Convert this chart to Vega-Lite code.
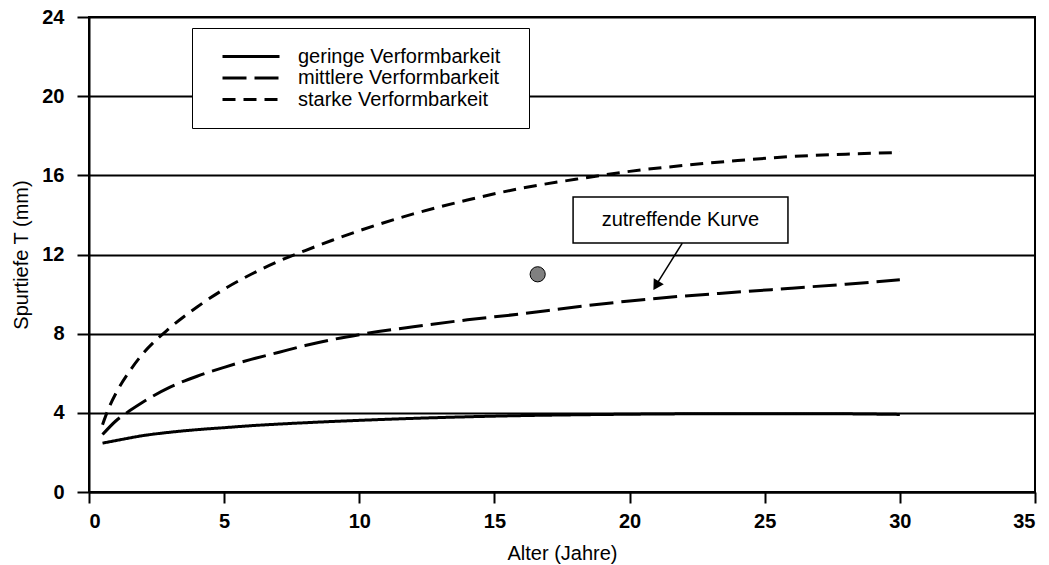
{
  "$schema": "https://vega.github.io/schema/vega-lite/v6.json",
  "width": 946,
  "height": 475,
  "autosize": {"type": "none"},
  "padding": {"left": 89, "top": 17, "right": 14, "bottom": 73},
  "background": "white",
  "config": {
    "view": {"stroke": "black", "strokeWidth": 2},
    "font": "Liberation Sans",
    "axis": {
      "domainColor": "black", "domainWidth": 2,
      "tickColor": "black", "tickWidth": 2,
      "labelColor": "black", "labelFont": "Liberation Sans", "labelFontSize": 20, "labelFontWeight": "bold",
      "titleColor": "black", "titleFont": "Liberation Sans", "titleFontSize": 20, "titleFontWeight": "normal"
    }
  },
  "layer": [
    {
      "data": {"values": [
        {"alter": 0.5, "t": 2.47, "kurve": "geringe Verformbarkeit"},
        {"alter": 1, "t": 2.6, "kurve": "geringe Verformbarkeit"},
        {"alter": 2, "t": 2.85, "kurve": "geringe Verformbarkeit"},
        {"alter": 3, "t": 3.02, "kurve": "geringe Verformbarkeit"},
        {"alter": 4, "t": 3.15, "kurve": "geringe Verformbarkeit"},
        {"alter": 5, "t": 3.25, "kurve": "geringe Verformbarkeit"},
        {"alter": 6, "t": 3.35, "kurve": "geringe Verformbarkeit"},
        {"alter": 7, "t": 3.43, "kurve": "geringe Verformbarkeit"},
        {"alter": 8, "t": 3.5, "kurve": "geringe Verformbarkeit"},
        {"alter": 10, "t": 3.62, "kurve": "geringe Verformbarkeit"},
        {"alter": 12, "t": 3.72, "kurve": "geringe Verformbarkeit"},
        {"alter": 14, "t": 3.8, "kurve": "geringe Verformbarkeit"},
        {"alter": 16, "t": 3.86, "kurve": "geringe Verformbarkeit"},
        {"alter": 18, "t": 3.9, "kurve": "geringe Verformbarkeit"},
        {"alter": 20, "t": 3.93, "kurve": "geringe Verformbarkeit"},
        {"alter": 22, "t": 3.95, "kurve": "geringe Verformbarkeit"},
        {"alter": 24, "t": 3.96, "kurve": "geringe Verformbarkeit"},
        {"alter": 26, "t": 3.96, "kurve": "geringe Verformbarkeit"},
        {"alter": 28, "t": 3.95, "kurve": "geringe Verformbarkeit"},
        {"alter": 30, "t": 3.92, "kurve": "geringe Verformbarkeit"},
        {"alter": 0.5, "t": 2.9, "kurve": "mittlere Verformbarkeit"},
        {"alter": 1, "t": 3.6, "kurve": "mittlere Verformbarkeit"},
        {"alter": 1.5, "t": 4.1, "kurve": "mittlere Verformbarkeit"},
        {"alter": 2, "t": 4.55, "kurve": "mittlere Verformbarkeit"},
        {"alter": 3, "t": 5.3, "kurve": "mittlere Verformbarkeit"},
        {"alter": 4, "t": 5.85, "kurve": "mittlere Verformbarkeit"},
        {"alter": 5, "t": 6.3, "kurve": "mittlere Verformbarkeit"},
        {"alter": 6, "t": 6.7, "kurve": "mittlere Verformbarkeit"},
        {"alter": 7, "t": 7.05, "kurve": "mittlere Verformbarkeit"},
        {"alter": 8, "t": 7.4, "kurve": "mittlere Verformbarkeit"},
        {"alter": 9, "t": 7.7, "kurve": "mittlere Verformbarkeit"},
        {"alter": 10, "t": 7.95, "kurve": "mittlere Verformbarkeit"},
        {"alter": 12, "t": 8.35, "kurve": "mittlere Verformbarkeit"},
        {"alter": 14, "t": 8.7, "kurve": "mittlere Verformbarkeit"},
        {"alter": 16, "t": 9.0, "kurve": "mittlere Verformbarkeit"},
        {"alter": 18, "t": 9.35, "kurve": "mittlere Verformbarkeit"},
        {"alter": 20, "t": 9.65, "kurve": "mittlere Verformbarkeit"},
        {"alter": 22, "t": 9.9, "kurve": "mittlere Verformbarkeit"},
        {"alter": 24, "t": 10.1, "kurve": "mittlere Verformbarkeit"},
        {"alter": 26, "t": 10.3, "kurve": "mittlere Verformbarkeit"},
        {"alter": 28, "t": 10.5, "kurve": "mittlere Verformbarkeit"},
        {"alter": 30, "t": 10.72, "kurve": "mittlere Verformbarkeit"},
        {"alter": 0.5, "t": 3.4, "kurve": "starke Verformbarkeit"},
        {"alter": 0.75, "t": 4.3, "kurve": "starke Verformbarkeit"},
        {"alter": 1, "t": 5.0, "kurve": "starke Verformbarkeit"},
        {"alter": 1.5, "t": 6.1, "kurve": "starke Verformbarkeit"},
        {"alter": 2, "t": 7.0, "kurve": "starke Verformbarkeit"},
        {"alter": 3, "t": 8.3, "kurve": "starke Verformbarkeit"},
        {"alter": 4, "t": 9.35, "kurve": "starke Verformbarkeit"},
        {"alter": 5, "t": 10.25, "kurve": "starke Verformbarkeit"},
        {"alter": 6, "t": 11.0, "kurve": "starke Verformbarkeit"},
        {"alter": 7, "t": 11.65, "kurve": "starke Verformbarkeit"},
        {"alter": 8, "t": 12.2, "kurve": "starke Verformbarkeit"},
        {"alter": 9, "t": 12.72, "kurve": "starke Verformbarkeit"},
        {"alter": 10, "t": 13.2, "kurve": "starke Verformbarkeit"},
        {"alter": 12, "t": 14.05, "kurve": "starke Verformbarkeit"},
        {"alter": 14, "t": 14.75, "kurve": "starke Verformbarkeit"},
        {"alter": 16, "t": 15.35, "kurve": "starke Verformbarkeit"},
        {"alter": 18, "t": 15.8, "kurve": "starke Verformbarkeit"},
        {"alter": 20, "t": 16.2, "kurve": "starke Verformbarkeit"},
        {"alter": 22, "t": 16.5, "kurve": "starke Verformbarkeit"},
        {"alter": 24, "t": 16.75, "kurve": "starke Verformbarkeit"},
        {"alter": 26, "t": 16.95, "kurve": "starke Verformbarkeit"},
        {"alter": 28, "t": 17.07, "kurve": "starke Verformbarkeit"},
        {"alter": 30, "t": 17.15, "kurve": "starke Verformbarkeit"}
      ]},
      "mark": {"type": "line", "color": "black", "strokeWidth": 3, "interpolate": "monotone"},
      "encoding": {
        "x": {
          "field": "alter", "type": "quantitative",
          "scale": {"domain": [0, 35], "nice": false, "zero": false},
          "axis": {"title": "Alter (Jahre)", "values": [0, 5, 10, 15, 20, 25, 30, 35], "tickSize": 11, "labelPadding": 8, "titlePadding": 12, "grid": false}
        },
        "y": {
          "field": "t", "type": "quantitative",
          "scale": {"domain": [0, 24], "nice": false},
          "axis": {"title": "Spurtiefe T (mm)", "values": [0, 4, 8, 12, 16, 20, 24], "tickSize": 12, "labelPadding": 13, "titlePadding": 10, "grid": true, "gridColor": "black", "gridWidth": 2, "gridOpacity": 1}
        },
        "strokeDash": {
          "field": "kurve", "type": "nominal",
          "scale": {"domain": ["geringe Verformbarkeit", "mittlere Verformbarkeit", "starke Verformbarkeit"], "range": [[1, 0], [24, 8], [13, 8]]},
          "legend": {
            "title": " ", "titleOrient": "right", "titlePadding": 11, "titleFontSize": 20,
            "orient": "none", "legendX": 103, "legendY": 11,
            "strokeColor": "black", "fillColor": "white", "padding": 18,
            "symbolType": "stroke", "symbolSize": 3249, "symbolStrokeWidth": 3, "symbolStrokeColor": "black",
            "symbolOffset": 11, "labelOffset": 17, "clipHeight": 21, "rowPadding": 0.5, "labelLimit": 400,
            "labelFont": "Liberation Sans", "labelFontSize": 20, "labelColor": "black"
          }
        }
      }
    },
    {
      "data": {"values": [{"alter": 16.6, "t": 11.0}]},
      "mark": {"type": "point", "filled": true, "fill": "#808080", "stroke": "black", "strokeWidth": 1, "size": 230, "shape": "circle", "opacity": 1},
      "encoding": {"x": {"field": "alter", "type": "quantitative"}, "y": {"field": "t", "type": "quantitative"}}
    },
    {
      "data": {"values": [{"x1": 17.91, "x2": 25.86, "y1": 12.58, "y2": 14.91}]},
      "mark": {"type": "rect", "fill": "white", "stroke": "black", "strokeWidth": 1.5},
      "encoding": {
        "x": {"field": "x1", "type": "quantitative"}, "x2": {"field": "x2"},
        "y": {"field": "y1", "type": "quantitative"}, "y2": {"field": "y2"}
      }
    },
    {
      "data": {"values": [{"x": 21.88, "y": 13.74, "label": "zutreffende Kurve"}]},
      "mark": {"type": "text", "font": "Liberation Sans", "fontSize": 20, "color": "black", "align": "center", "baseline": "middle"},
      "encoding": {"x": {"field": "x", "type": "quantitative"}, "y": {"field": "y", "type": "quantitative"}, "text": {"field": "label"}}
    },
    {
      "data": {"values": [{"x1": 21.95, "y1": 12.58, "x2": 21.05, "y2": 10.6}]},
      "mark": {"type": "rule", "color": "black", "strokeWidth": 1.5},
      "encoding": {
        "x": {"field": "x1", "type": "quantitative"}, "x2": {"field": "x2"},
        "y": {"field": "y1", "type": "quantitative"}, "y2": {"field": "y2"}
      }
    },
    {
      "data": {"values": [{"x": 20.99, "y": 10.45}]},
      "mark": {"type": "point", "shape": "triangle-up", "filled": true, "fill": "black", "stroke": "black", "size": 70, "angle": 211.7, "opacity": 1},
      "encoding": {"x": {"field": "x", "type": "quantitative"}, "y": {"field": "y", "type": "quantitative"}}
    }
  ]
}
